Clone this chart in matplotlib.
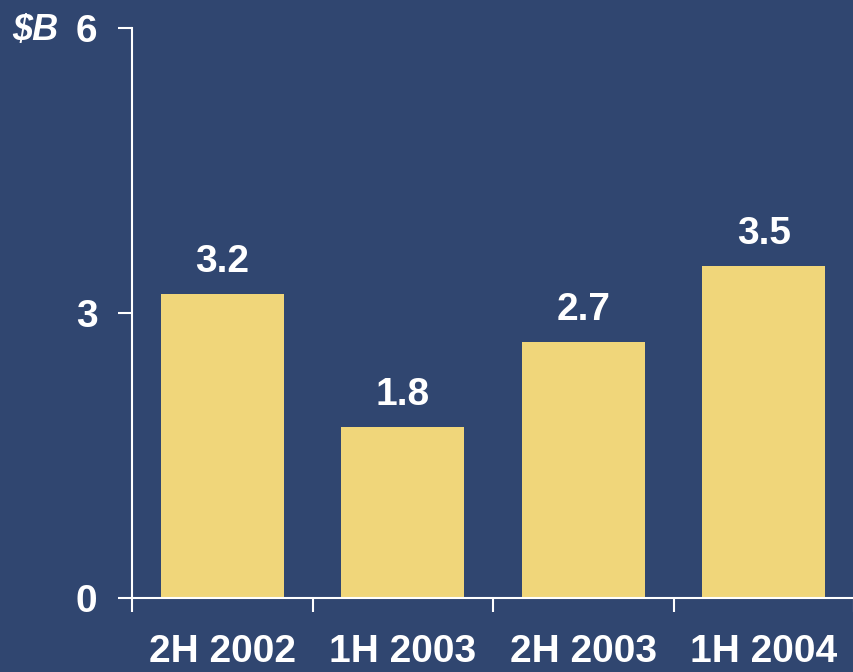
import matplotlib
matplotlib.use("Agg")
import matplotlib.pyplot as plt
import numpy as np

categories = ["2H 2002", "1H 2003", "2H 2003", "1H 2004"]
values = [3.2, 1.8, 2.7, 3.5]
value_labels = ["3.2", "1.8", "2.7", "3.5"]
yticks = [0, 3, 6]

bg = "#304670"
bar_color = "#F0D67A"
plt.rcParams['font.family'] = ['Liberation Sans', 'DejaVu Sans']

fig = plt.figure(figsize=(8.54, 6.72), dpi=100, facecolor=bg)
ax = fig.add_axes([0.1546, 0.110, 0.8454, 0.848])
ax.set_facecolor(bg)

x = np.arange(len(categories)) + 0.5
ax.bar(x, values, width=0.68, color=bar_color, zorder=2)
for xi, v, lab in zip(x, values, value_labels):
    ax.annotate(lab, (xi, v), xytext=(0, 10), textcoords="offset points",
                ha="center", va="bottom", color="white", fontsize=28, fontweight="bold")

ax.set_xlim(0, 4)
ax.set_ylim(0, 6)
ax.set_yticks(yticks)
ax.set_yticklabels([str(t) for t in yticks], fontsize=28, fontweight="bold", color="white")
ax.set_xticks([0, 1, 2, 3, 4])
ax.set_xticklabels([])
ax.set_xticks(x, minor=True)
ax.set_xticklabels(categories, minor=True, fontsize=28, fontweight="bold", color="white")
ax.tick_params(axis="x", which="major", length=10, width=1.5, color="white", direction="out")
ax.tick_params(axis="x", which="minor", length=0, pad=26)
ax.tick_params(axis="y", length=10, width=1.5, color="white", direction="out", pad=15)
for s in ["top", "right"]:
    ax.spines[s].set_visible(False)
for s in ["left", "bottom"]:
    ax.spines[s].set_color("white")
    ax.spines[s].set_linewidth(1.5)

fig.text(0.014, 0.955, "$B", fontsize=26, fontweight="bold", fontstyle="italic",
         color="white", ha="left", va="center")

fig.savefig("out.png", dpi=100, facecolor=bg)
